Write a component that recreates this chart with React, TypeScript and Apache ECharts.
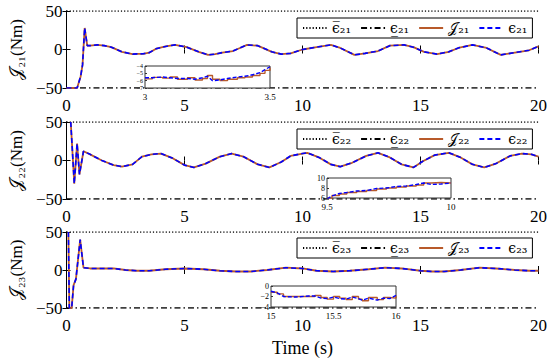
import React, { useEffect, useRef } from "react";
import * as echarts from "echarts";

// ---- main panels data ----
const T1 = [0, 0.45, 0.6, 0.68, 0.77, 0.88, 1.0, 1.3, 1.6, 1.9, 2.35, 2.8, 3.0, 3.25, 3.5, 3.8, 4.2, 4.6, 5.1, 5.6, 6.0, 6.3, 6.6, 7.05, 7.35, 7.65, 8.1, 8.7, 9.1, 9.5, 10.0, 10.6, 11.2, 11.6, 12.2, 12.65, 13.2, 13.7, 14.3, 14.7, 15.15, 15.7, 16.2, 16.6, 17.2, 17.8, 18.4, 19.0, 19.6, 20];
const V1 = [-50, -50, -35, -20, 28, 5, 5, 6, 5, 3, -3, -6, -5.7, -5.6, -4.2, 1, 4, 6, 3, -3, -7, -6, -4, -2, 2, 6, 5, -3, -6, -5, 0, 3, 6, 2, -7, -5, -2, 5, 6, 3, -3, -6, -3, 2, 6, 2, -7, -4, -1, 4];

const T2 = [0.18, 0.33, 0.45, 0.55, 0.72, 1.0, 1.5, 2.0, 2.35, 2.8, 3.2, 3.6, 4.0, 4.5, 5.0, 5.4, 5.9, 6.5, 7.0, 7.5, 8.1, 8.6, 9.1, 9.5, 10.0, 10.2, 10.7, 11.2, 11.6, 12.1, 12.7, 13.2, 13.7, 14.2, 14.7, 15.1, 15.6, 16.2, 16.7, 17.2, 17.7, 18.2, 18.8, 19.3, 19.7, 20];
const V2 = [50, -30, 22, -18, 12, 8, 0, -6, -8, -5, 5, 8, 9, 3, -6, -9, -4, 5, 9, 5, -5, -9, -2, 6, 9, 10, 4, -5, -8, -3, 6, 10, 4, -5, -9, -1, 7, 10, 4, -5, -9, -4, 6, 9, 8, 5];

const T3 = [0.08, 0.12, 0.22, 0.3, 0.4, 0.58, 0.72, 1.0, 2.0, 2.5, 3.0, 3.5, 4.2, 5.0, 5.8, 6.5, 7.2, 7.8, 8.5, 9.3, 10.0, 10.6, 11.3, 12.0, 12.8, 13.5, 14.2, 15.0, 15.5, 16.0, 16.7, 17.5, 18.2, 19.0, 19.6, 20];
const V3 = [50, -50, -50, -20, -12, 40, 3, 2, 2, 0, -1, -1, 1, 2, 1, -1, -2, -2, 0, 3, 2, -1, -2, -1, 1, 3, 2, -1, -2, -2, 0, 3, 2, 0, -1, -1];

const UPPER = 50;
const LOWER = -50;
const X_RANGE = [0, 20];

// ---- inset data ----
const I1T = [3.0, 3.03, 3.07, 3.1, 3.13, 3.17, 3.2, 3.23, 3.25, 3.27, 3.3, 3.33, 3.37, 3.4, 3.43, 3.46, 3.48, 3.5];
const I1J = [-5.75, -5.55, -5.65, -5.5, -5.8, -5.6, -5.9, -5.7, -5.3, -5.8, -6.0, -5.8, -5.6, -5.5, -5.3, -5.0, -4.6, -4.2];
const I1E = [-5.6, -5.6, -5.5, -5.6, -5.7, -5.7, -5.8, -5.6, -5.4, -6.0, -5.9, -5.7, -5.5, -5.4, -5.2, -4.9, -4.5, -4.1];

const I2T = [9.5, 9.52, 9.55, 9.58, 9.62, 9.66, 9.7, 9.74, 9.78, 9.82, 9.86, 9.89, 9.92, 9.96, 10.0];
const I2J = [5.9, 6.5, 6.8, 7.1, 7.3, 7.5, 7.8, 8.0, 8.2, 8.4, 8.6, 9.0, 9.1, 9.0, 9.0];
const I2E = [5.8, 6.4, 6.9, 7.1, 7.4, 7.5, 7.9, 8.0, 8.3, 8.4, 8.7, 9.0, 8.7, 8.8, 9.0];

const I3T = [15.0, 15.05, 15.1, 15.2, 15.3, 15.35, 15.4, 15.45, 15.5, 15.55, 15.6, 15.65, 15.7, 15.73, 15.78, 15.85, 15.9, 15.95, 16.0];
const I3J = [-1.2, -1.5, -2.0, -2.0, -2.0, -1.8, -2.2, -2.5, -2.0, -2.3, -2.6, -2.0, -2.5, -2.8, -2.2, -2.6, -2.2, -2.3, -1.8];
const I3E = [-1.0, -1.3, -2.0, -2.1, -1.9, -1.9, -2.3, -2.4, -2.1, -2.4, -2.5, -2.1, -2.4, -2.7, -2.3, -2.7, -2.3, -2.4, -1.8];

const SUBS = ["₂₁", "₂₂", "₂₃"];
const J_NAME = "𝒥";
const EPS = "ϵ";

const FONT = "'Liberation Serif', 'DejaVu Serif', serif";
const LEG_FONT = "'DejaVu Serif', 'Liberation Serif', serif";
const J_COLOR = "#b85a2a";
const E_COLOR = "#0000ff";

const fmt = (v: number) => String(v).replace("-", "−");
const pairs = (t: number[], v: number[]) => t.map((x, i) => [x, v[i]]);

export default function App() {
  const ref = useRef<HTMLDivElement>(null);
  useEffect(() => {
    if (!ref.current) return;
    const chart = echarts.init(ref.current, null, { renderer: "svg" });

    const mainGrids = [
      { left: 59, top: 11, width: 481, height: 77 },
      { left: 59, top: 122, width: 481, height: 77 },
      { left: 59, top: 232, width: 481, height: 76 },
    ];
    const insetGrids = [
      { left: 145, top: 66, width: 125, height: 22 },
      { left: 327, top: 178, width: 124, height: 20 },
      { left: 271, top: 286, width: 125, height: 21 },
    ];
    const insetX = [
      [3, 3.5, 0.5],
      [9.5, 10, 0.5],
      [15, 16, 0.5],
    ];
    const insetY = [
      [-7, -4, 1, 6],
      [6, 10, 2, 8],
      [-4, 0, 2, 8],
    ];
    const mainData = [pairs(T1, V1), pairs(T2, V2), pairs(T3, V3)];
    const insetData = [
      [pairs(I1T, I1J), pairs(I1T, I1E)],
      [pairs(I2T, I2J), pairs(I2T, I2E)],
      [pairs(I3T, I3J), pairs(I3T, I3E)],
    ];
    const legendTops = [18, 129, 238];

    const grid: any[] = [];
    const xAxis: any[] = [];
    const yAxis: any[] = [];
    const series: any[] = [];
    const legend: any[] = [];

    mainGrids.forEach((g, i) => {
      grid.push({ ...g, containLabel: false });
      const gi = grid.length - 1;
      xAxis.push({
        gridIndex: gi,
        type: "value",
        min: X_RANGE[0],
        max: X_RANGE[1],
        interval: 5,
        axisLine: { show: false },
        axisTick: { show: true, inside: true, length: 4, lineStyle: { color: "#000" } },
        axisLabel: { color: "#000", fontFamily: FONT, fontSize: 17, margin: 9, formatter: fmt },
        splitLine: { show: false },
        name: i === 2 ? "Time (s)" : "",
        nameLocation: "middle",
        nameGap: 31,
        nameTextStyle: { color: "#000", fontFamily: FONT, fontSize: 18 },
      });
      const xb = xAxis.length - 1;
      xAxis.push({
        gridIndex: gi,
        type: "value",
        position: "top",
        min: X_RANGE[0],
        max: X_RANGE[1],
        interval: 5,
        axisLine: { show: false },
        axisTick: { show: true, inside: true, length: 4, lineStyle: { color: "#000" } },
        axisLabel: { show: false },
        splitLine: { show: false },
      });
      yAxis.push({
        gridIndex: gi,
        type: "value",
        min: LOWER,
        max: UPPER,
        interval: 50,
        axisLine: { show: true, lineStyle: { color: "#000", width: 1 } },
        axisTick: { show: true, inside: true, length: 4, lineStyle: { color: "#000" } },
        axisLabel: { color: "#000", fontFamily: FONT, fontSize: 17, margin: 4, formatter: fmt },
        splitLine: { show: false },
        name: J_NAME + SUBS[i] + "(Nm)",
        nameLocation: "middle",
        nameGap: 32,
        nameTextStyle: { color: "#000", fontFamily: FONT, fontSize: 17 },
      });
      const yl = yAxis.length - 1;
      yAxis.push({
        gridIndex: gi,
        type: "value",
        position: "right",
        min: LOWER,
        max: UPPER,
        interval: 50,
        axisLine: { show: true, lineStyle: { color: "#000", width: 1 } },
        axisTick: { show: true, inside: true, length: 4, lineStyle: { color: "#000" } },
        axisLabel: { show: false },
        splitLine: { show: false },
      });

      const names = [
        EPS + "\u0305" + SUBS[i],
        EPS + "\u0332" + SUBS[i],
        J_NAME + SUBS[i],
        EPS + SUBS[i],
      ];
      series.push({
        name: names[0],
        type: "line",
        xAxisIndex: xb,
        yAxisIndex: yl,
        data: [[X_RANGE[0], UPPER], [X_RANGE[1], UPPER]],
        symbol: "none",
        lineStyle: { color: "#000", width: 1.5, type: [1.2, 2] },
        itemStyle: { color: "#000" },
        z: 3,
      });
      series.push({
        name: names[1],
        type: "line",
        xAxisIndex: xb,
        yAxisIndex: yl,
        data: [[X_RANGE[0], LOWER], [X_RANGE[1], LOWER]],
        symbol: "none",
        lineStyle: { color: "#000", width: 1.6, type: [6, 3, 1.5, 3] },
        itemStyle: { color: "#000" },
        z: 3,
      });
      series.push({
        name: names[2],
        type: "line",
        xAxisIndex: xb,
        yAxisIndex: yl,
        data: mainData[i],
        symbol: "none",
        lineStyle: { color: J_COLOR, width: 1.8 },
        itemStyle: { color: J_COLOR },
        z: 4,
      });
      series.push({
        name: names[3],
        type: "line",
        xAxisIndex: xb,
        yAxisIndex: yl,
        data: mainData[i],
        symbol: "none",
        lineStyle: { color: E_COLOR, width: 1.6, type: [5, 3] },
        itemStyle: { color: E_COLOR },
        z: 5,
      });
      legend.push({
        data: names,
        left: 297,
        top: legendTops[i],
        orient: "horizontal",
        itemWidth: 24,
        itemHeight: 10,
        itemGap: 9,
        padding: [3, 5, 3, 5],
        borderColor: "#000",
        borderWidth: 1,
        borderRadius: 0,
        backgroundColor: "#fff",
        itemStyle: { opacity: 0 },
        textStyle: { color: "#000", fontFamily: LEG_FONT, fontSize: 14 },
        selectedMode: false,
        z: 10,
      });
    });

    insetGrids.forEach((g, i) => {
      grid.push({ ...g, show: true, backgroundColor: "#fff", borderColor: "#333", borderWidth: 1, z: 6 });
      const gi = grid.length - 1;
      xAxis.push({
        gridIndex: gi,
        type: "value",
        min: insetX[i][0],
        max: insetX[i][1],
        interval: insetX[i][2],
        axisLine: { show: false },
        axisTick: { show: false },
        axisLabel: { color: "#000", fontFamily: FONT, fontSize: 9, margin: 4, formatter: fmt },
        splitLine: { show: false },
        z: 7,
      });
      const xi = xAxis.length - 1;
      yAxis.push({
        gridIndex: gi,
        type: "value",
        min: insetY[i][0],
        max: insetY[i][1],
        interval: insetY[i][2],
        axisLine: { show: false },
        axisTick: { show: true, inside: true, length: 2, lineStyle: { color: "#333" } },
        axisLabel: { color: "#000", fontFamily: FONT, fontSize: insetY[i][3], margin: 2, formatter: fmt },
        splitLine: { show: false },
        z: 7,
      });
      const yi = yAxis.length - 1;
      series.push({
        type: "line",
        xAxisIndex: xi,
        yAxisIndex: yi,
        data: insetData[i][0],
        step: "end",
        symbol: "none",
        lineStyle: { color: J_COLOR, width: 1.4 },
        z: 8,
      });
      series.push({
        type: "line",
        xAxisIndex: xi,
        yAxisIndex: yi,
        data: insetData[i][1],
        symbol: "none",
        lineStyle: { color: E_COLOR, width: 1.4, type: [4, 2] },
        z: 9,
      });
    });

    chart.setOption({
      animation: false,
      backgroundColor: "#fff",
      grid,
      xAxis,
      yAxis,
      series,
      legend,
    });
    return () => chart.dispose();
  }, []);
  return (
    <div
      ref={ref}
      style={{ position: "fixed", left: 0, top: 0, width: 550, height: 364 }}
    />
  );
}
